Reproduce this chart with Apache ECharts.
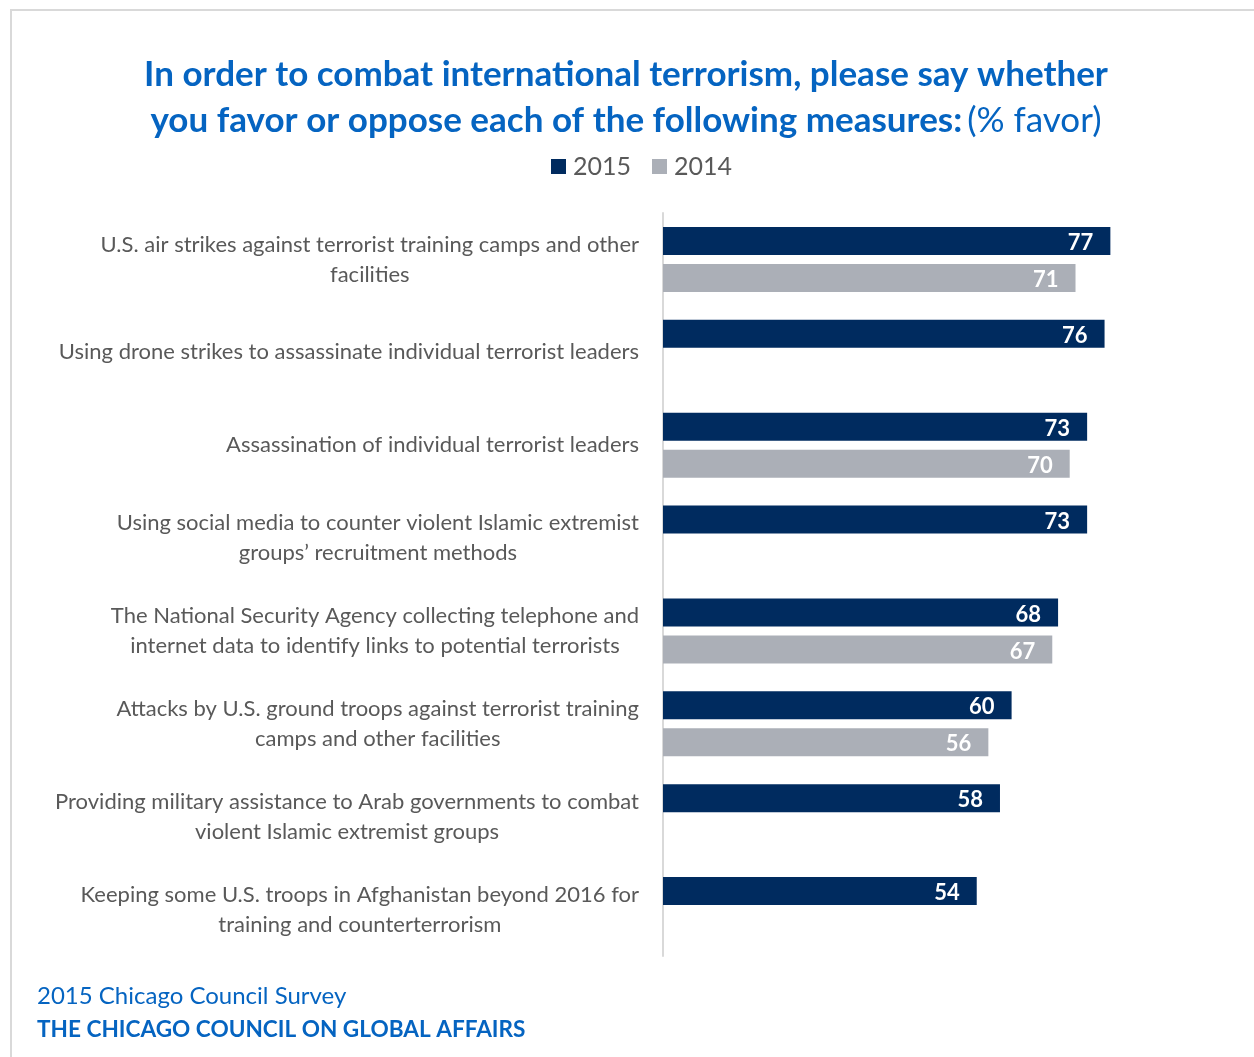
<!DOCTYPE html>
<html>
<head>
<meta charset="utf-8">
<script src="https://cdn.jsdelivr.net/npm/echarts@6/dist/echarts.min.js"></script>
<style>
html,body{margin:0;padding:0;background:#fff;}
#chart{width:1254px;height:1057px;}
</style>
</head>
<body>
<div id="chart"></div>
<script>
const categories = [
  "U.S. air strikes against terrorist training camps and other\nfacilities",
  "Using drone strikes to assassinate individual terrorist leaders",
  "Assassination of individual terrorist leaders",
  "Using social media to counter violent Islamic extremist\ngroups\u2019 recruitment methods",
  "The National Security Agency collecting telephone and\ninternet data to identify links to potential terrorists",
  "Attacks by U.S. ground troops against terrorist training\ncamps and other facilities",
  "Providing military assistance to Arab governments to combat\nviolent Islamic extremist groups",
  "Keeping some U.S. troops in Afghanistan beyond 2016 for\ntraining and counterterrorism"
];
const values2015 = [77, 76, 73, 73, 68, 60, 58, 54];
const values2014 = [71, null, 70, null, 67, 56, null, null];
const seriesNames = ["2015", "2014"];

const FONT = "Lato";
const chart = echarts.init(document.getElementById('chart'));
chart.setOption({
  animation: false,
  backgroundColor: '#fff',
  graphic: [
    { type: 'rect', shape: { x: 11, y: 10, width: 1300, height: 1100 }, style: { fill: 'none', stroke: '#d9d9d9', lineWidth: 2 } },
    { type: 'text', left: 37, top: 984, style: { text: '2015 Chicago Council Survey', font: '400 24px ' + FONT, fill: '#0564C1' } },
    { type: 'text', left: 37, top: 1018, style: { text: 'THE CHICAGO COUNCIL ON GLOBAL AFFAIRS', font: '700 22.6px ' + FONT, fill: '#0564C1' } }
  ],
  title: {
    text: '{b|In order to combat international terrorism, please say whether}\n{b|you favor or oppose each of the following measures:} {n|(% favor)}',
    left: 621, top: 47, textAlign: 'center',
    textStyle: {
      rich: {
        b: { fontFamily: FONT, fontWeight: 'bold', fontSize: 35, color: '#0564C1', lineHeight: 46 },
        n: { fontFamily: FONT, fontWeight: 'normal', fontSize: 35, color: '#0564C1', lineHeight: 46 }
      }
    }
  },
  legend: {
    data: seriesNames,
    left: 546, top: 149,
    itemWidth: 15, itemHeight: 15, itemGap: 21,
    icon: 'rect',
    textStyle: { fontFamily: FONT, fontSize: 25, color: '#595959', padding: [0, 0, 0, 2] }
  },
  grid: { left: 663, top: 213, width: 581, height: 743, containLabel: false },
  xAxis: { type: 'value', min: 0, max: 100, show: false },
  yAxis: {
    type: 'category', data: categories, inverse: true,
    axisLine: { show: true, lineStyle: { color: '#d9d9d9', width: 2 } },
    axisTick: { show: false },
    axisLabel: {
      margin: 24,
      formatter: v => v.split('\n').map(l => '{c|' + l + '}').join('\n'),
      rich: { c: { align: 'center', fontFamily: FONT, fontSize: 22, color: '#595959', lineHeight: 30 } }
    }
  },
  series: [
    { name: seriesNames[0], type: 'bar', data: values2015, barWidth: 28, barGap: '32%',
      itemStyle: { color: '#002B5F' },
      label: { show: true, position: 'insideRight', distance: 17, offset: [0, 2], color: '#fff', fontFamily: FONT, fontWeight: 'bold', fontSize: 22 } },
    { name: seriesNames[1], type: 'bar', data: values2014, barWidth: 28, barGap: '32%',
      itemStyle: { color: '#ABAFB7' },
      label: { show: true, position: 'insideRight', distance: 17, offset: [0, 2], color: '#fff', fontFamily: FONT, fontWeight: 'bold', fontSize: 22 } }
  ]
});
</script>
</body>
</html>
